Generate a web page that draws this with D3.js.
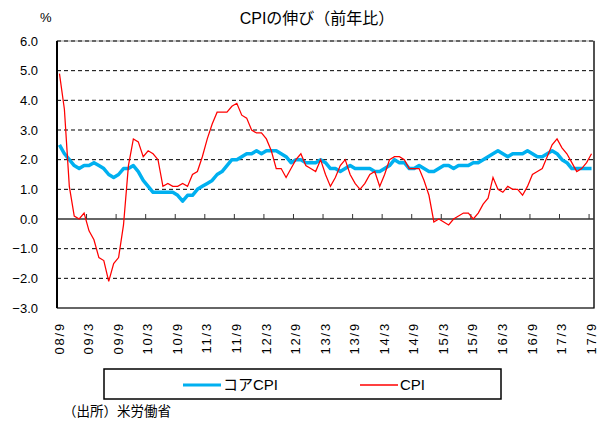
<!DOCTYPE html>
<html>
<head>
<meta charset="utf-8">
<script src="https://cdn.jsdelivr.net/npm/d3@7"></script>
<style>
  body { margin: 0; background: #fff; }
  text { font-family: "Liberation Sans", Arial, "Noto Sans CJK JP", sans-serif; }
</style>
</head>
<body>
<div id="chart"></div>
<script>
// 2008/9 - 2017/9, monthly, % y/y
let months = d3.timeMonth.range(new Date(2008, 8, 1), new Date(2017, 9, 1))

let coreCPI = [
  2.5, 2.2, 2.0, 1.8,
  1.7, 1.8, 1.8, 1.9, 1.8, 1.7, 1.5, 1.4, 1.5, 1.7, 1.7, 1.8,
  1.6, 1.3, 1.1, 0.9, 0.9, 0.9, 0.9, 0.9, 0.8, 0.6, 0.8, 0.8,
  1.0, 1.1, 1.2, 1.3, 1.5, 1.6, 1.8, 2.0, 2.0, 2.1, 2.2, 2.2,
  2.3, 2.2, 2.3, 2.3, 2.3, 2.2, 2.1, 1.9, 2.0, 2.0, 1.9, 1.9,
  1.9, 2.0, 1.9, 1.7, 1.7, 1.6, 1.7, 1.8, 1.7, 1.7, 1.7, 1.7,
  1.6, 1.6, 1.7, 1.8, 2.0, 1.9, 1.9, 1.7, 1.7, 1.8, 1.7, 1.6,
  1.6, 1.7, 1.8, 1.8, 1.7, 1.8, 1.8, 1.8, 1.9, 1.9, 2.0, 2.1,
  2.2, 2.3, 2.2, 2.1, 2.2, 2.2, 2.2, 2.3, 2.2, 2.1, 2.1, 2.2,
  2.3, 2.2, 2.0, 1.9, 1.7, 1.7, 1.7, 1.7, 1.7
]

let cpi = [
  4.9, 3.7, 1.1, 0.1,
  0.0, 0.2, -0.4, -0.7, -1.3, -1.4, -2.1, -1.5, -1.3, -0.2, 1.8, 2.7,
  2.6, 2.1, 2.3, 2.2, 2.0, 1.1, 1.2, 1.1, 1.1, 1.2, 1.1, 1.5,
  1.6, 2.1, 2.7, 3.2, 3.6, 3.6, 3.6, 3.8, 3.9, 3.5, 3.4, 3.0,
  2.9, 2.9, 2.7, 2.3, 1.7, 1.7, 1.4, 1.7, 2.0, 2.2, 1.8, 1.7,
  1.6, 2.0, 1.5, 1.1, 1.4, 1.8, 2.0, 1.5, 1.2, 1.0, 1.2, 1.5,
  1.6, 1.1, 1.5, 2.0, 2.1, 2.1, 2.0, 1.7, 1.7, 1.7, 1.3, 0.8,
  -0.1, 0.0, -0.1, -0.2, 0.0, 0.1, 0.2, 0.2, 0.0, 0.2, 0.5, 0.7,
  1.4, 1.0, 0.9, 1.1, 1.0, 1.0, 0.8, 1.1, 1.5, 1.6, 1.7, 2.1,
  2.5, 2.7, 2.4, 2.2, 1.9, 1.6, 1.7, 1.9, 2.2
]

let xTickLabels = ["08/9", "09/3", "09/9", "10/3", "10/9", "11/3", "11/9", "12/3", "12/9",
  "13/3", "13/9", "14/3", "14/9", "15/3", "15/9", "16/3", "16/9", "17/3", "17/9"]
let yTicks = [-3, -2, -1, 0, 1, 2, 3, 4, 5, 6]
let seriesNames = ["コアCPI", "CPI"]

let width = 598, height = 421
let pLeft = 57, pRight = 594, pTop = 41, pBottom = 308

let svg = d3.select("#chart").append("svg")
  .attr("width", width)
  .attr("height", height)

let x = d3.scaleBand()
  .domain(d3.range(months.length))
  .range([pLeft, pRight])
  .padding(0)

let y = d3.scaleLinear()
  .domain([-3, 6])
  .range([pBottom, pTop])

let cx = i => x(i) + x.bandwidth() / 2

// plot frame
svg.append("rect")
  .attr("x", pLeft).attr("y", pTop)
  .attr("width", pRight - pLeft).attr("height", pBottom - pTop)
  .attr("fill", "none")
  .attr("stroke", "#999")
  .attr("stroke-width", 1)

// dashed grid lines
svg.append("g").selectAll("line")
  .data(yTicks.filter(v => v !== 0 && v !== -3))
  .enter().append("line")
  .attr("x1", pLeft).attr("x2", pRight)
  .attr("y1", d => y(d)).attr("y2", d => y(d))
  .attr("stroke", "#000")
  .attr("stroke-width", 1)
  .attr("stroke-dasharray", "4,3")

// bottom and right border
svg.append("path")
  .attr("d", `M${pLeft},${y(-3)}H${pRight}V${pTop}`)
  .attr("fill", "none")
  .attr("stroke", "#000")
  .attr("stroke-width", 1.2)

// zero line with tick marks
svg.append("line")
  .attr("x1", pLeft).attr("x2", pRight)
  .attr("y1", y(0)).attr("y2", y(0))
  .attr("stroke", "#333")
  .attr("stroke-width", 1.5)

svg.append("g").selectAll("line")
  .data(d3.range(6, months.length, 6))
  .enter().append("line")
  .attr("x1", d => x(d)).attr("x2", d => x(d))
  .attr("y1", y(0)).attr("y2", y(0) - 5)
  .attr("stroke", "#333")
  .attr("stroke-width", 1)

// y axis
svg.append("line")
  .attr("x1", pLeft).attr("x2", pLeft)
  .attr("y1", pTop).attr("y2", pBottom)
  .attr("stroke", "#000")
  .attr("stroke-width", 2)

svg.append("g").selectAll("text")
  .data(yTicks)
  .enter().append("text")
  .attr("x", 38)
  .attr("y", d => y(d))
  .attr("dy", "0.36em")
  .attr("text-anchor", "end")
  .attr("font-size", "13px")
  .text(d => d3.format(".1f")(d))

svg.append("text")
  .attr("x", 40).attr("y", 22)
  .attr("font-size", "13px")
  .text("%")

// x labels
svg.append("g").selectAll("text")
  .data(xTickLabels)
  .enter().append("text")
  .attr("transform", (d, i) => `translate(${cx(i * 6) - 0.5},322) rotate(-90)`)
  .attr("dy", "0.36em")
  .attr("text-anchor", "end")
  .attr("font-size", "13px")
  .attr("letter-spacing", "1.8px")
  .text(d => d)

// lines
let line = d3.line()
  .x((d, i) => cx(i))
  .y(d => y(d))

svg.append("path")
  .datum(coreCPI)
  .attr("d", line)
  .attr("fill", "none")
  .attr("stroke", "#00B0F0")
  .attr("stroke-width", 3.5)
  .attr("stroke-linejoin", "round")

svg.append("path")
  .datum(cpi)
  .attr("d", line)
  .attr("fill", "none")
  .attr("stroke", "#FF0000")
  .attr("stroke-width", 1.25)

// title
svg.append("text")
  .attr("x", 317).attr("y", 24)
  .attr("text-anchor", "middle")
  .attr("font-size", "16px")
  .text("CPIの伸び（前年比）")

// legend
let lg = svg.append("g")
lg.append("rect")
  .attr("x", 104).attr("y", 369)
  .attr("width", 397).attr("height", 30)
  .attr("fill", "#fff")
  .attr("stroke", "#000")
  .attr("stroke-width", 1.5)

let legendItems = [
  { name: seriesNames[0], color: "#00B0F0", w: 3, x: 183 },
  { name: seriesNames[1], color: "#FF0000", w: 1.5, x: 360 }
]
legendItems.forEach(d => {
  lg.append("line")
    .attr("x1", d.x).attr("x2", d.x + 38)
    .attr("y1", 385).attr("y2", 385)
    .attr("stroke", d.color)
    .attr("stroke-width", d.w)
  lg.append("text")
    .attr("x", d.x + 40).attr("y", 390)
    .attr("font-size", "15px")
    .text(d.name)
})

// source
svg.append("text")
  .attr("x", 63).attr("y", 416)
  .attr("font-size", "13.5px")
  .text("（出所）米労働省")
</script>
</body>
</html>
